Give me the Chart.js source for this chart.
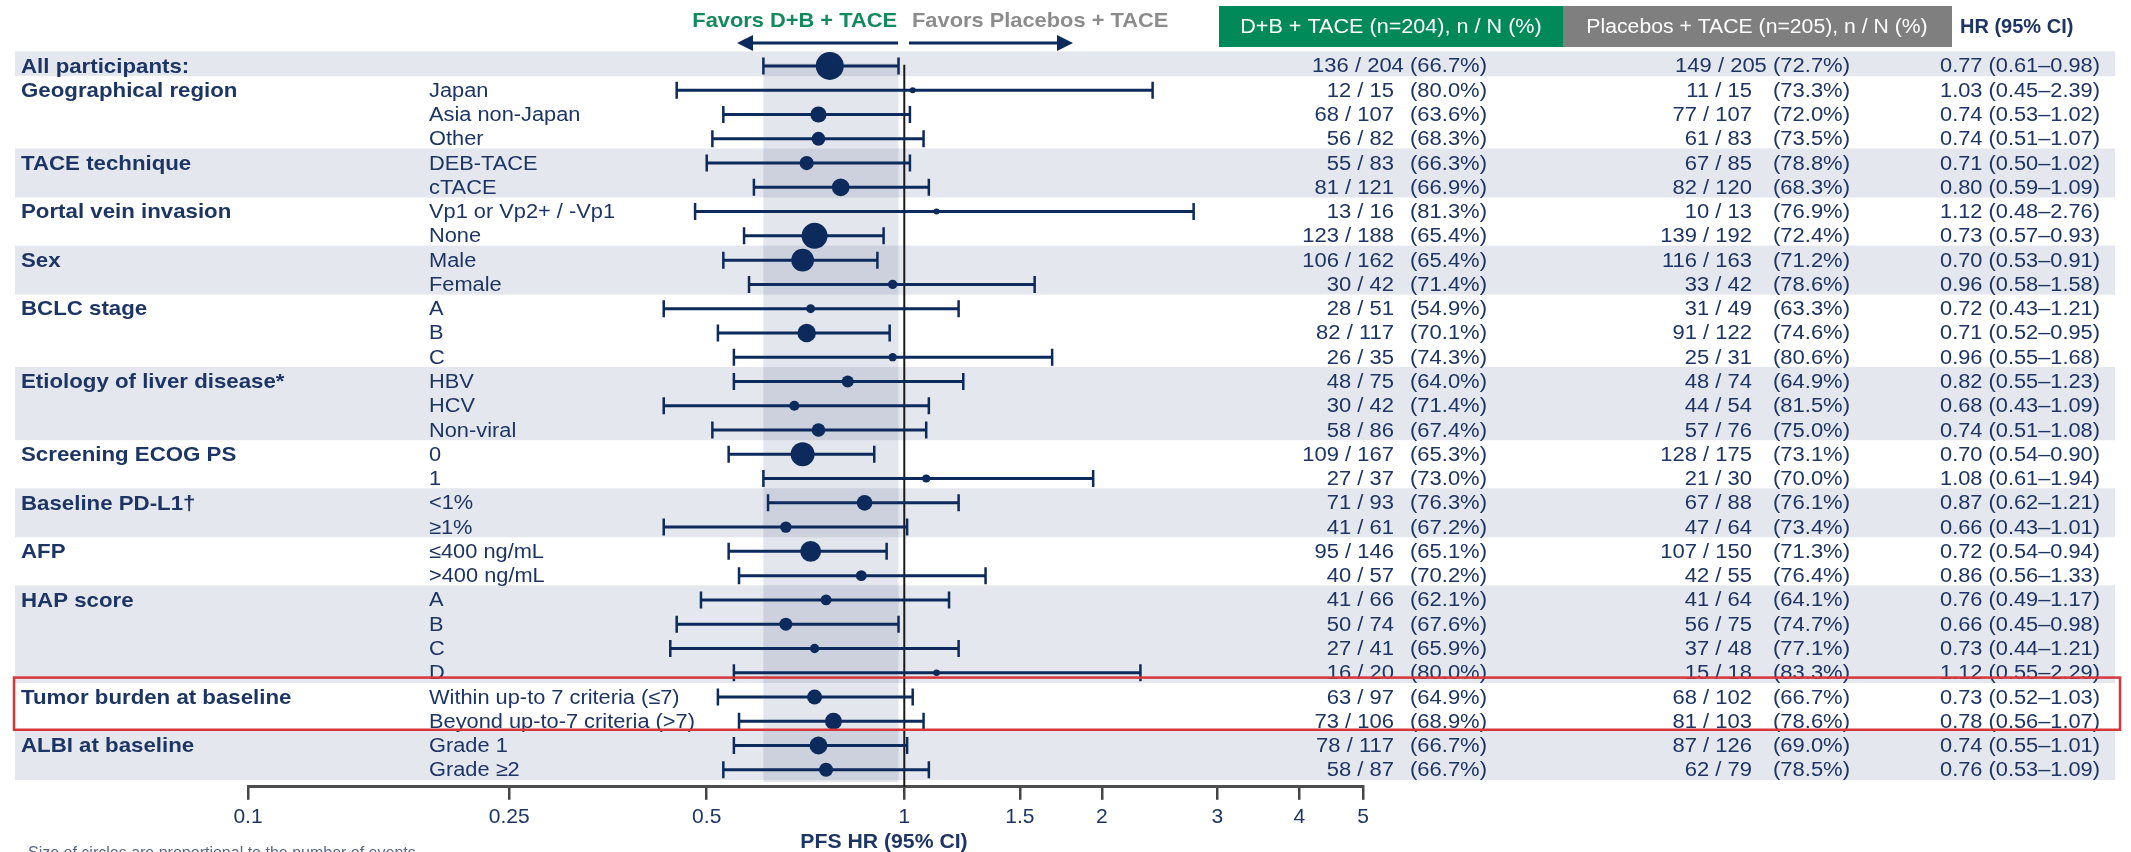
<!DOCTYPE html>
<html>
<head>
<meta charset="utf-8">
<script src="https://cdn.jsdelivr.net/npm/chart.js@4.4.1/dist/chart.umd.min.js"></script>
<style>
  html, body { margin: 0; padding: 0; background: #ffffff; overflow: hidden; }
  #wrap { width: 2131px; height: 852px; position: relative; }
</style>
</head>
<body>
<div id="wrap"><canvas id="forest" width="2131" height="852"></canvas></div>
<script>
// ---- Subgroup rows (top to bottom) ----
const groupLabels = [
  'All participants:', 'Geographical region', '', '', 'TACE technique', '',
  'Portal vein invasion', '', 'Sex', '', 'BCLC stage', '', '',
  'Etiology of liver disease*', '', '', 'Screening ECOG PS', '',
  'Baseline PD-L1\u2020', '', 'AFP', '', 'HAP score', '', '', '',
  'Tumor burden at baseline', '', 'ALBI at baseline', ''
];
const subgroupLabels = [
  '', 'Japan', 'Asia non-Japan', 'Other', 'DEB-TACE', 'cTACE',
  'Vp1 or Vp2+ / -Vp1', 'None', 'Male', 'Female', 'A', 'B', 'C',
  'HBV', 'HCV', 'Non-viral', '0', '1',
  '<1%', '\u22651%', '\u2264400 ng/mL', '>400 ng/mL', 'A', 'B', 'C', 'D',
  'Within up-to 7 criteria (\u22647)', 'Beyond up-to-7 criteria (>7)', 'Grade 1', 'Grade \u22652'
];

// D+B + TACE arm: events / patients (%)
const dbEvents = [136, 12, 68, 56, 55, 81, 13, 123, 106, 30, 28, 82, 26, 48, 30, 58, 109, 27, 71, 41, 95, 40, 41, 50, 27, 16, 63, 73, 78, 58];
const dbTotal  = [204, 15, 107, 82, 83, 121, 16, 188, 162, 42, 51, 117, 35, 75, 42, 86, 167, 37, 93, 61, 146, 57, 66, 74, 41, 20, 97, 106, 117, 87];
const dbPct    = ['66.7', '80.0', '63.6', '68.3', '66.3', '66.9', '81.3', '65.4', '65.4', '71.4', '54.9', '70.1', '74.3', '64.0', '71.4', '67.4', '65.3', '73.0', '76.3', '67.2', '65.1', '70.2', '62.1', '67.6', '65.9', '80.0', '64.9', '68.9', '66.7', '66.7'];

// Placebos + TACE arm: events / patients (%)
const plEvents = [149, 11, 77, 61, 67, 82, 10, 139, 116, 33, 31, 91, 25, 48, 44, 57, 128, 21, 67, 47, 107, 42, 41, 56, 37, 15, 68, 81, 87, 62];
const plTotal  = [205, 15, 107, 83, 85, 120, 13, 192, 163, 42, 49, 122, 31, 74, 54, 76, 175, 30, 88, 64, 150, 55, 64, 75, 48, 18, 102, 103, 126, 79];
const plPct    = ['72.7', '73.3', '72.0', '73.5', '78.8', '68.3', '76.9', '72.4', '71.2', '78.6', '63.3', '74.6', '80.6', '64.9', '81.5', '75.0', '73.1', '70.0', '76.1', '73.4', '71.3', '76.4', '64.1', '74.7', '77.1', '83.3', '66.7', '78.6', '69.0', '78.5'];

// PFS hazard ratio with 95% CI
const hazardRatio = [0.77, 1.03, 0.74, 0.74, 0.71, 0.80, 1.12, 0.73, 0.70, 0.96, 0.72, 0.71, 0.96, 0.82, 0.68, 0.74, 0.70, 1.08, 0.87, 0.66, 0.72, 0.86, 0.76, 0.66, 0.73, 1.12, 0.73, 0.78, 0.74, 0.76];
const ciLower     = [0.61, 0.45, 0.53, 0.51, 0.50, 0.59, 0.48, 0.57, 0.53, 0.58, 0.43, 0.52, 0.55, 0.55, 0.43, 0.51, 0.54, 0.61, 0.62, 0.43, 0.54, 0.56, 0.49, 0.45, 0.44, 0.55, 0.52, 0.56, 0.55, 0.53];
const ciUpper     = [0.98, 2.39, 1.02, 1.07, 1.02, 1.09, 2.76, 0.93, 0.91, 1.58, 1.21, 0.95, 1.68, 1.23, 1.09, 1.08, 0.90, 1.94, 1.21, 1.01, 0.94, 1.33, 1.17, 0.98, 1.21, 2.29, 1.03, 1.07, 1.01, 1.09];

// Axis ticks
const xTickValues = [0.1, 0.25, 0.5, 1, 1.5, 2, 3, 4, 5];

// Row ranges of the shaded variable groups, and the outlined group
const shadedGroups = [[0, 0], [4, 5], [8, 9], [13, 15], [18, 19], [22, 25], [28, 29]];
const outlinedGroup = [26, 27];

// ---- Styling ----
const NAVY = '#1d3564';
const MARK = '#0c2a5c';
const FONT = '"Liberation Sans", Arial, Helvetica, sans-serif';
const BAND = '#e5e7ee';

function txt(ctx, s, x, y, opts) {
  const o = Object.assign({ size: 20, weight: 'normal', color: NAVY, align: 'left', sx: 1.08, baseline: 'middle' }, opts || {});
  ctx.save();
  ctx.font = o.weight + ' ' + o.size + 'px ' + FONT;
  ctx.fillStyle = o.color;
  ctx.textAlign = o.align;
  ctx.textBaseline = o.baseline;
  ctx.translate(x, y);
  ctx.scale(o.sx, 1);
  ctx.fillText(s, 0, 0);
  ctx.restore();
}

// marker radius grows with the number of events in the subgroup
const radii = dbEvents.map((e, i) => 2 + 0.042 * (e + plEvents[i]));

const backgroundPlugin = {
  id: 'forestBackground',
  beforeDraw(chart) {
    const ctx = chart.ctx, xs = chart.scales.x, ys = chart.scales.y;
    ctx.save();
    ctx.fillStyle = '#ffffff';
    ctx.fillRect(0, 0, chart.width, chart.height);
    // group bands
    ctx.fillStyle = BAND;
    shadedGroups.forEach(([a, b]) => {
      const y0 = ys.getPixelForValue(a - 0.6), y1 = ys.getPixelForValue(b + 0.42);
      ctx.fillRect(15, y0, 2115 - 15, y1 - y0);
    });
    // overall CI column
    const cx0 = xs.getPixelForValue(ciLower[0]), cx1 = xs.getPixelForValue(ciUpper[0]);
    const cy0 = ys.getPixelForValue(-0.1), cy1 = ys.getPixelForValue(29.5);
    ctx.fillStyle = 'rgba(40, 62, 112, 0.13)';
    ctx.fillRect(cx0, cy0, cx1 - cx0, cy1 - cy0);
    ctx.restore();
  },
  beforeDatasetsDraw(chart) {
    const ctx = chart.ctx, xs = chart.scales.x, ys = chart.scales.y;
    ctx.save();
    // line of no effect
    const x1 = xs.getPixelForValue(1);
    ctx.strokeStyle = '#1a1a1a';
    ctx.lineWidth = 2;
    ctx.beginPath();
    ctx.moveTo(x1, ys.getPixelForValue(-0.05));
    ctx.lineTo(x1, chart.chartArea.bottom);
    ctx.stroke();
    // confidence intervals
    ctx.strokeStyle = MARK;
    hazardRatio.forEach((v, i) => {
      const y = ys.getPixelForValue(i);
      const a = xs.getPixelForValue(ciLower[i]), b = xs.getPixelForValue(ciUpper[i]);
      ctx.lineWidth = 3;
      ctx.beginPath();
      ctx.moveTo(a, y); ctx.lineTo(b, y);
      ctx.stroke();
      ctx.lineWidth = 2.5;
      ctx.beginPath();
      ctx.moveTo(a, y - 8.5); ctx.lineTo(a, y + 8.5);
      ctx.moveTo(b, y - 8.5); ctx.lineTo(b, y + 8.5);
      ctx.stroke();
    });
    ctx.restore();
  },
  afterDraw(chart) {
    const ctx = chart.ctx, ys = chart.scales.y;
    // row texts
    groupLabels.forEach((g, i) => {
      const y = ys.getPixelForValue(i) + 1;
      if (g) txt(ctx, g, 21, y, { size: 21, weight: 'bold', sx: 1.06 });
      if (subgroupLabels[i]) txt(ctx, subgroupLabels[i], 429, y, { size: 20, sx: 1.09 });
      if (i === 0) {
        // overall row is set as one run of text
        txt(ctx, dbEvents[i] + ' / ' + dbTotal[i] + ' (' + dbPct[i] + '%)', 1487, y, { align: 'right', sx: 1.1 });
        txt(ctx, plEvents[i] + ' / ' + plTotal[i] + ' (' + plPct[i] + '%)', 1850, y, { align: 'right', sx: 1.1 });
      } else {
        txt(ctx, dbEvents[i] + ' / ' + dbTotal[i], 1394, y, { align: 'right', sx: 1.1 });
        txt(ctx, '(' + dbPct[i] + '%)', 1487, y, { align: 'right', sx: 1.1 });
        txt(ctx, plEvents[i] + ' / ' + plTotal[i], 1752, y, { align: 'right', sx: 1.1 });
        txt(ctx, '(' + plPct[i] + '%)', 1850, y, { align: 'right', sx: 1.1 });
      }
      txt(ctx, hazardRatio[i].toFixed(2) + ' (' + ciLower[i].toFixed(2) + '\u2013' + ciUpper[i].toFixed(2) + ')', 2100, y, { align: 'right', sx: 1.09 });
    });

    // outlined group
    ctx.save();
    ctx.strokeStyle = '#d6373a';
    ctx.lineWidth = 2.5;
    const r0 = ys.getPixelForValue(outlinedGroup[0] - 0.8), r1 = ys.getPixelForValue(outlinedGroup[1] + 0.35);
    ctx.strokeRect(14, r0, 2120 - 14, r1 - r0);
    ctx.restore();

    // column headers
    ctx.save();
    ctx.fillStyle = '#008a5a';
    ctx.fillRect(1219, 6, 1563 - 1219, 41);
    ctx.fillStyle = '#7f7f7f';
    ctx.fillRect(1563, 6, 1952 - 1563, 41);
    ctx.restore();
    txt(ctx, 'D+B + TACE (n=204), n / N (%)', 1391, 27, { color: '#ffffff', align: 'center', sx: 1.08 });
    txt(ctx, 'Placebos + TACE (n=205), n / N (%)', 1757, 27, { color: '#ffffff', align: 'center', sx: 1.06 });
    txt(ctx, 'HR (95% CI)', 1960, 27, { weight: 'bold', size: 20, sx: 1.0 });

    // direction labels and arrows
    txt(ctx, 'Favors D+B + TACE', 897, 21, { weight: 'bold', size: 21, color: '#138a5e', align: 'right', sx: 1.04 });
    txt(ctx, 'Favors Placebos + TACE', 912, 21, { weight: 'bold', size: 21, color: '#8c8c8c', align: 'left', sx: 1.04 });
    ctx.save();
    ctx.strokeStyle = MARK; ctx.fillStyle = MARK; ctx.lineWidth = 3;
    ctx.beginPath(); ctx.moveTo(898, 43); ctx.lineTo(750, 43); ctx.stroke();
    ctx.beginPath(); ctx.moveTo(737, 43); ctx.lineTo(753, 35); ctx.lineTo(753, 51); ctx.closePath(); ctx.fill();
    ctx.beginPath(); ctx.moveTo(909, 43); ctx.lineTo(1058, 43); ctx.stroke();
    ctx.beginPath(); ctx.moveTo(1073, 43); ctx.lineTo(1057, 35); ctx.lineTo(1057, 51); ctx.closePath(); ctx.fill();
    ctx.restore();

    // axis title and footnote
    txt(ctx, 'PFS HR (95% CI)', 884, 842, { weight: 'bold', size: 20, align: 'center', sx: 1.06 });
    txt(ctx, 'Size of circles are proportional to the number of events', 28, 858, { size: 16, color: '#5a6888', baseline: 'alphabetic', sx: 1.0 });
  }
};

new Chart(document.getElementById('forest').getContext('2d'), {
  type: 'scatter',
  data: {
    datasets: [{
      data: hazardRatio.map((v, i) => ({ x: v, y: i })),
      pointRadius: radii,
      pointHoverRadius: radii,
      pointBackgroundColor: MARK,
      pointBorderColor: MARK,
      pointBorderWidth: 0
    }]
  },
  options: {
    responsive: false,
    animation: false,
    events: [],
    layout: { padding: { left: 248, right: 768, top: 51.4, bottom: 17 } },
    plugins: { legend: { display: false }, tooltip: { enabled: false } },
    scales: {
      x: {
        type: 'logarithmic',
        position: 'bottom',
        min: 0.1,
        max: 5,
        afterBuildTicks: (scale) => { scale.ticks = xTickValues.map(v => ({ value: v })); },
        ticks: {
          autoSkip: false,
          maxRotation: 0,
          padding: 5,
          color: NAVY,
          font: { family: FONT, size: 21 },
          callback: (v) => String(v)
        },
        grid: { drawOnChartArea: false, drawTicks: true, tickLength: 13, color: '#444444', lineWidth: 2.5 },
        border: { display: true, color: '#4d4d4d', width: 3 }
      },
      y: { type: 'linear', reverse: true, min: -0.6, max: 29.7, display: false }
    }
  },
  plugins: [backgroundPlugin]
});
</script>
</body>
</html>
